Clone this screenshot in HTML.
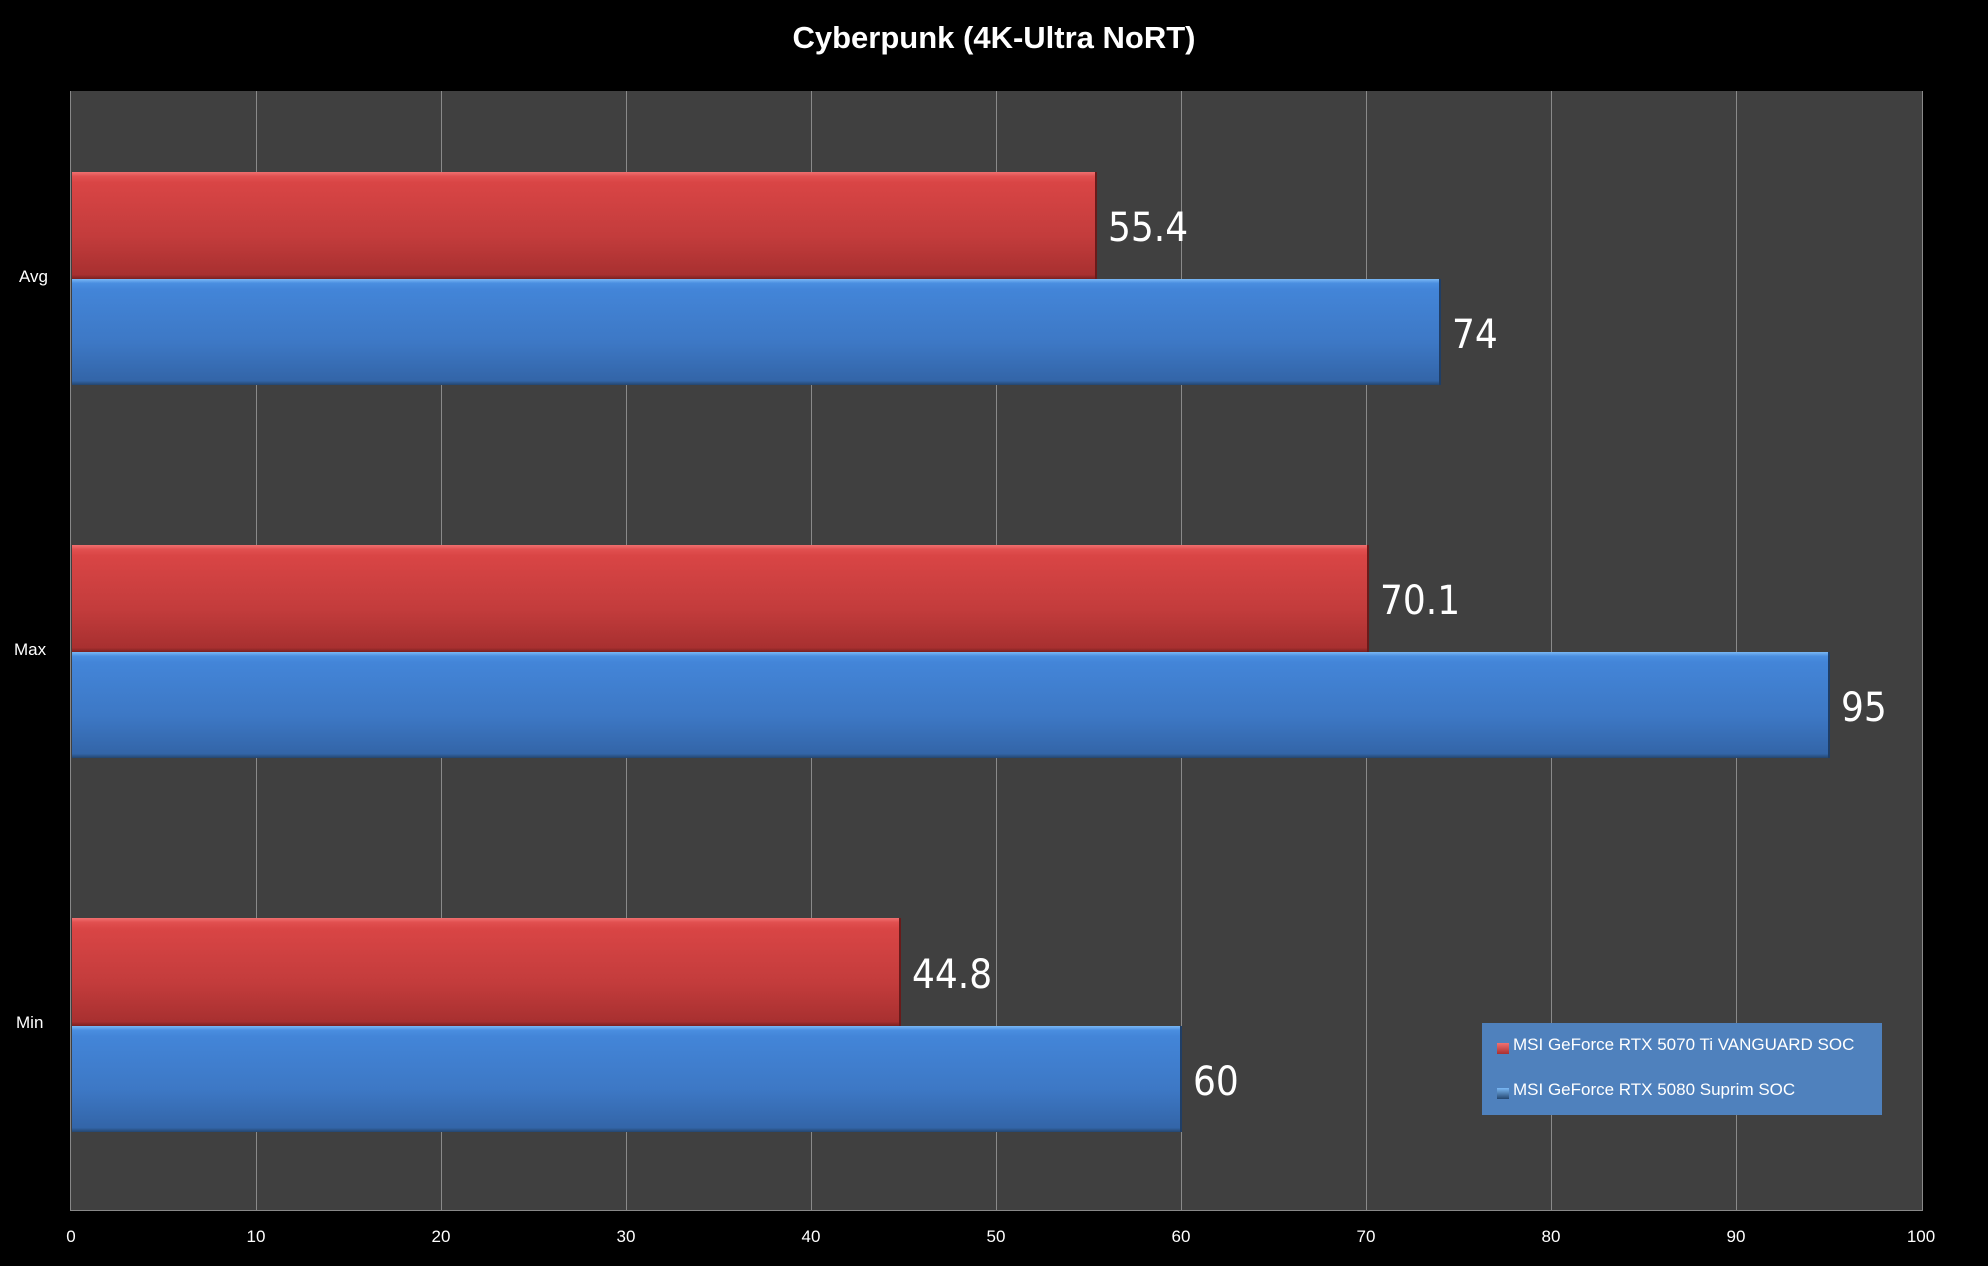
<!DOCTYPE html>
<html><head><meta charset="utf-8"><style>
body{margin:0;background:#000;width:1988px;height:1266px;overflow:hidden;position:relative;font-family:"Liberation Sans",sans-serif;}
.t{position:absolute;color:#fff;}
.plot{position:absolute;left:70px;top:91px;width:1852px;height:1119px;background:#404040;border-left:1px solid #888;border-bottom:1px solid #888;}
.g{position:absolute;top:0;bottom:0;width:1px;background:#8a8a8a;}
.bar{position:absolute;left:1px;box-sizing:border-box;}
.r{background:linear-gradient(#f07070 0,#e15050 4%,#d94545 10%,#c33c3c 60%,#a83030 96%,#7a2020 100%);border-right:2px solid #6a1a1a;}
.b{background:linear-gradient(#7ab8f5 0,#4a8ee0 4%,#4385d8 10%,#3d78c5 60%,#3365a8 96%,#24466f 100%);border-right:2px solid #1f3e66;}
.v{position:absolute;color:#fff;font-family:"DejaVu Sans Condensed","Liberation Sans Narrow",sans-serif;font-size:40px;}
.x{position:absolute;top:1227px;font-size:17px;color:#fff;width:60px;margin-left:-30px;text-align:center;}
.c{position:absolute;font-size:17px;color:#fff;}
</style></head><body>
<div class="t" style="left:0;width:1988px;top:20px;text-align:center;font-size:31px;font-weight:bold;">Cyberpunk (4K-Ultra NoRT)</div>
<div class="plot">
<div class="g" style="left:185px"></div><div class="g" style="left:370px"></div><div class="g" style="left:555px"></div><div class="g" style="left:740px"></div><div class="g" style="left:925px"></div><div class="g" style="left:1110px"></div><div class="g" style="left:1295px"></div><div class="g" style="left:1480px"></div><div class="g" style="left:1665px"></div><div class="g" style="left:1851px"></div>
<div class="bar r" style="top:81px;height:107px;width:1025px"></div>
<div class="bar b" style="top:188px;height:106px;width:1369px"></div>
<div class="bar r" style="top:454px;height:107px;width:1297px"></div>
<div class="bar b" style="top:561px;height:106px;width:1758px"></div>
<div class="bar r" style="top:827px;height:108px;width:829px"></div>
<div class="bar b" style="top:935px;height:106px;width:1110px"></div>
<div class="v" style="left:1037px;top:114px">55.4</div>
<div class="v" style="left:1381px;top:221px">74</div>
<div class="v" style="left:1309px;top:487px">70.1</div>
<div class="v" style="left:1770px;top:594px">95</div>
<div class="v" style="left:841px;top:861px">44.8</div>
<div class="v" style="left:1122px;top:968px">60</div>
<div style="position:absolute;left:1411px;top:932px;width:400px;height:92px;background:#4f81bd;">
<div style="position:absolute;left:15px;top:20px;width:12px;height:11px;background:linear-gradient(#f07070,#a83030);"></div>
<div style="position:absolute;left:31px;top:12px;font-size:17px;color:#fff;">MSI GeForce RTX 5070 Ti VANGUARD SOC</div>
<div style="position:absolute;left:15px;top:65px;width:12px;height:11px;background:linear-gradient(#7ab8f5,#24466f);"></div>
<div style="position:absolute;left:31px;top:57px;font-size:17px;color:#fff;">MSI GeForce RTX 5080 Suprim SOC</div>
</div>
</div>
<div class="c" style="left:19px;top:267px">Avg</div>
<div class="c" style="left:14px;top:640px">Max</div>
<div class="c" style="left:16px;top:1013px">Min</div>
<div class="x" style="left:71px">0</div><div class="x" style="left:256px">10</div><div class="x" style="left:441px">20</div><div class="x" style="left:626px">30</div><div class="x" style="left:811px">40</div><div class="x" style="left:996px">50</div><div class="x" style="left:1181px">60</div><div class="x" style="left:1366px">70</div><div class="x" style="left:1551px">80</div><div class="x" style="left:1736px">90</div><div class="x" style="left:1921px">100</div>
</body></html>
